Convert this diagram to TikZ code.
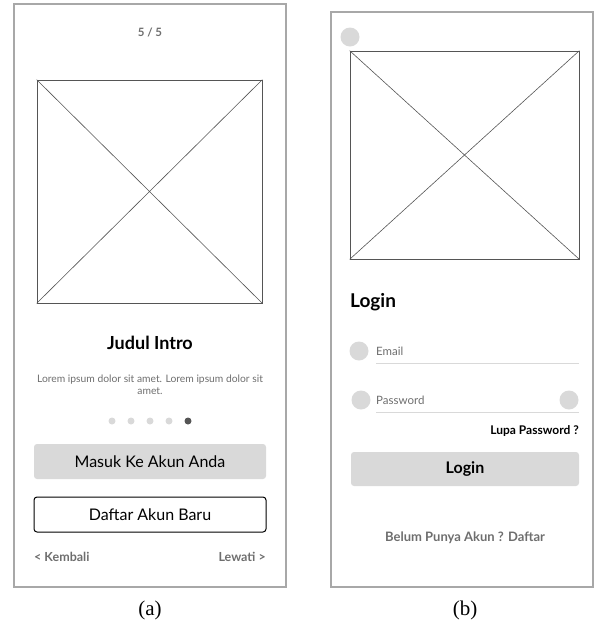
\documentclass[tikz,border=0pt]{standalone}
\usepackage{fontspec}
\setmainfont{Lato}
\newfontfamily\capfont{Liberation Serif}
\usetikzlibrary{positioning}

\definecolor{framegray}{HTML}{A8A8A8}
\definecolor{wireline}{HTML}{555555}
\definecolor{softgray}{HTML}{D9D9D9}
\definecolor{textgray}{HTML}{6E6E6E}

\begin{document}
\begin{tikzpicture}[x=1pt, y=-1pt,
    screen/.style={draw=framegray, line width=1.3pt},
    imgbox/.style={draw=wireline, line width=0.7pt, inner sep=0pt},
    btnfill/.style={fill=softgray, rounded corners=3pt, inner sep=0pt},
    btnline/.style={draw=black, line width=1pt, rounded corners=3pt, inner sep=0pt},
    icon/.style={circle, fill=softgray, inner sep=0pt, minimum size=19pt},
    dot/.style={circle, fill=softgray, inner sep=0pt, minimum size=7pt},
    field/.style={draw=softgray, line width=0.8pt},
    small/.style={font=\fontsize{11.5}{13}\selectfont},
    navlink/.style={font=\fontsize{12.5}{15}\bfseries\selectfont, text=textgray, inner sep=0pt},
    caption/.style={font=\capfont\fontsize{21}{24}\selectfont}
]
\useasboundingbox (0,0) rectangle (594,625);

% Screen (a): intro page
\node[screen, minimum width=272pt, minimum height=583pt, inner sep=0pt] (introframe) at (150,295.5) {};
\node[font=\fontsize{11.5}{13}\bfseries\selectfont, text=textgray] (pager) at (150,32) {5 / 5};
\node[imgbox, minimum width=225pt, minimum height=223pt] (introimg) at (149.5,191.5) {};
\draw[wireline, line width=0.6pt] (introimg.north west) -- (introimg.south east)
    (introimg.north east) -- (introimg.south west);
\node[font=\fontsize{18}{21}\bfseries\selectfont] (introtitle) at (150,343) {Judul Intro};
\node[font=\fontsize{10.3}{12}\selectfont, text=textgray, align=center] (introtext) at (150,385)
    {Lorem ipsum dolor sit amet. Lorem ipsum dolor sit\\amet.};
\foreach \i/\x in {1/112,2/131,3/150,4/169} {
    \node[dot] (dot\i) at (\x,421) {};
}
\node[dot, fill=wireline] (dot5) at (188,421) {};
\node[btnfill, minimum width=232pt, minimum height=35pt] (masuk) at (150,461.5)
    {\fontsize{16}{19}\selectfont Masuk Ke Akun Anda};
\node[btnline, minimum width=232pt, minimum height=35pt] (daftar) at (150,514.5)
    {\fontsize{16}{19}\selectfont Daftar Akun Baru};
\node[navlink, anchor=west] (kembali) at (34,557) {< Kembali};
\node[navlink, anchor=east] (lewati) at (266,557) {Lewati >};
\node[caption] (capa) at (150,610) {(a)};

% Screen (b): login page
\node[screen, minimum width=262pt, minimum height=575pt, inner sep=0pt] (loginframe) at (462,299.5) {};
\node[icon] (backicon) at (350,37) {};
\node[imgbox, minimum width=229pt, minimum height=208pt] (loginimg) at (464.5,155) {};
\draw[wireline, line width=0.6pt] (loginimg.north west) -- (loginimg.south east)
    (loginimg.north east) -- (loginimg.south west);
\node[font=\fontsize{19}{22}\bfseries\selectfont, anchor=west, inner sep=0pt] (logintitle) at (350,302) {Login};

\node[icon] (mailicon) at (359,351) {};
\node[small, text=textgray, anchor=west, inner sep=0pt] (email) at (376,351) {Email};
\coordinate (mailend) at (579,363);
\draw[field] (376,363) -- (mailend);

\node[icon] (lockicon) at (361,400) {};
\node[icon] (eyeicon) at (569,400) {};
\node[small, text=textgray, anchor=west, inner sep=0pt] (password) at (376,400) {Password};
\coordinate (passend) at (579,412);
\draw[field] (376,412) -- (passend);

\node[font=\fontsize{12}{14}\bfseries\selectfont, anchor=east, inner sep=0pt] (lupa) at (579,431) {Lupa Password ?};
\node[btnfill, minimum width=228pt, minimum height=34pt] (loginbtn) at (465,469)
    {\fontsize{16}{19}\bfseries\selectfont Login};
\node[font=\fontsize{13}{15}\bfseries\selectfont, text=textgray] (belum) at (465,538) {Belum Punya Akun ? Daftar};
\node[caption] (capb) at (465,610) {(b)};

\end{tikzpicture}
\end{document}
